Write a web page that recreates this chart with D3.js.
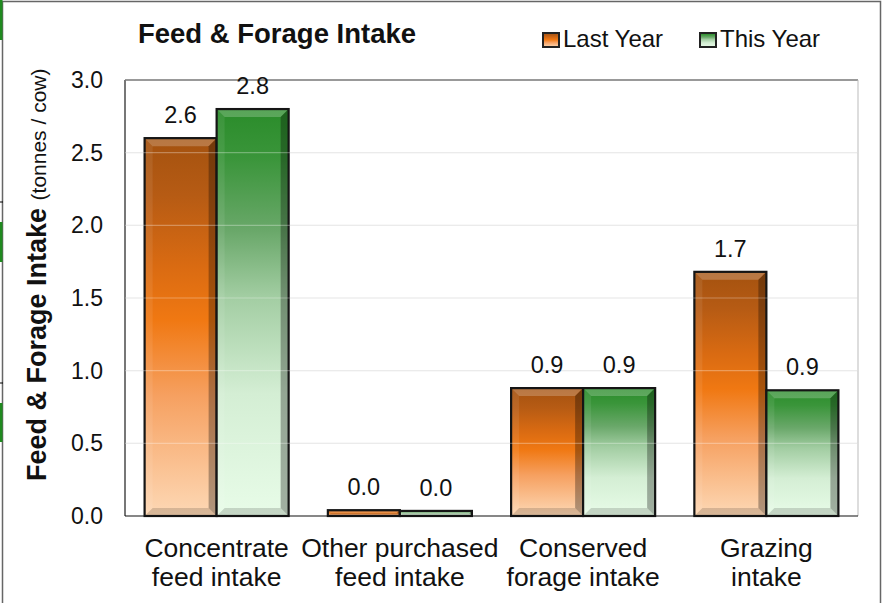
<!DOCTYPE html>
<html><head><meta charset="utf-8">
<script src="https://cdn.jsdelivr.net/npm/d3@7"></script>
<style>html,body{margin:0;padding:0;background:#fff}text{font-family:"Liberation Sans",Arial,sans-serif}</style>
</head><body><svg id="c" width="883" height="603"></svg>
<script>
const categories = [["Concentrate","feed intake"],["Other purchased","feed intake"],["Conserved","forage intake"],["Grazing","intake"]];
const seriesNames = ["Last Year","This Year"];
const lastYear = [2.6, 0.04, 0.88, 1.68];
const thisYear = [2.8, 0.035, 0.88, 0.865];
const yTicks = [0,0.5,1.0,1.5,2.0,2.5,3.0];

const svg = d3.select("#c");
const L=125,R=858,T=80,B=516;
const defs = svg.append("defs");
function grad(id, stops){
  const g = defs.append("linearGradient").attr("id",id).attr("x1",0).attr("y1",0).attr("x2",0).attr("y2",1);
  stops.forEach(s=>g.append("stop").attr("offset",s[0]).attr("stop-color",s[1]));
}
grad("gOr",[[0,"#a4520f"],[0.15,"#b65b14"],[0.33,"#d86a12"],[0.48,"#f07812"],[0.68,"#f6a060"],[0.86,"#fac090"],[1,"#fdd8b5"]]);
grad("gGr",[[0,"#2a8c2a"],[0.12,"#3a953a"],[0.3,"#6aa86a"],[0.46,"#a2cda2"],[0.7,"#d4eed4"],[1,"#e8fce8"]]);
const fills = ["url(#gOr)","url(#gGr)"];

// outer frame + left edge artifacts
svg.append("rect").attr("x",2.5).attr("y",1.5).attr("width",878).attr("height",610).attr("fill","#fff").attr("stroke","#666").attr("stroke-width",1.5);
[[0,40],[222,262],[403,442]].forEach(r=>svg.append("rect").attr("x",0).attr("y",r[0]).attr("width",2.5).attr("height",r[1]-r[0]).attr("fill","#1f8a1f"));
[202,383].forEach(y=>svg.append("line").attr("x1",0).attr("x2",3).attr("y1",y).attr("y2",y).attr("stroke","#000"));

const x = d3.scaleBand().domain(d3.range(categories.length)).range([L,R]).paddingInner(0.214).paddingOuter(0.107);
const xs = d3.scaleBand().domain(d3.range(seriesNames.length)).range([0,x.bandwidth()]);
const y = d3.scaleLinear().domain([0,3]).range([B,T]);

// gridlines under
svg.append("g").selectAll("line").data(yTicks.filter(d=>d>0&&d<3)).join("line")
  .attr("x1",L).attr("x2",R).attr("y1",d=>y(d)).attr("y2",d=>y(d)).attr("stroke","#e2e2e2").attr("stroke-width",1.2);

// plot frame
svg.append("line").attr("x1",L).attr("x2",R).attr("y1",T).attr("y2",T).attr("stroke","#777").attr("stroke-width",1.5);
svg.append("line").attr("x1",R).attr("x2",R).attr("y1",T).attr("y2",B).attr("stroke","#bbb").attr("stroke-width",1);
svg.append("line").attr("x1",L).attr("x2",L).attr("y1",T).attr("y2",B).attr("stroke","#777").attr("stroke-width",2);

const data = [];
categories.forEach((c,i)=>{[lastYear,thisYear].forEach((s,j)=>data.push({i,j,v:s[i]}));});

const bars = svg.append("g").selectAll("g").data(data).join("g");
bars.each(function(d){
  const g = d3.select(this);
  const x0 = x(d.i)+xs(d.j), w = xs.bandwidth(), y0 = y(d.v), h = y(0)-y(d.v);
  g.append("rect").attr("x",x0).attr("y",y0).attr("width",w).attr("height",h).attr("fill",fills[d.j]);
  const b = Math.min(8, h/2, w/2);
  const x1=x0+w, y1=y0+h;
  const poly=(pts,fill,op)=>g.append("polygon").attr("points",pts.map(p=>p.join(",")).join(" ")).attr("fill",fill).attr("opacity",op);
  poly([[x0,y0],[x1,y0],[x1-b,y0+b],[x0+b,y0+b]],"#fff",0.22);
  poly([[x0,y0],[x0+b,y0+b],[x0+b,y1-b],[x0,y1]],"#fff",0.08);
  poly([[x1,y0],[x1,y1],[x1-b,y1-b],[x1-b,y0+b]],"#000",0.3);
  poly([[x0,y1],[x0+b,y1-b],[x1-b,y1-b],[x1,y1]],"#000",0.15);
  g.append("rect").attr("x",x0).attr("y",y0).attr("width",w).attr("height",h).attr("fill","none").attr("stroke","#151515").attr("stroke-width",2.2);
});

// gridlines over bars (faint)
svg.append("g").selectAll("line").data(yTicks.filter(d=>d>0&&d<3)).join("line")
  .attr("x1",L).attr("x2",R).attr("y1",d=>y(d)).attr("y2",d=>y(d)).attr("stroke","#fff").attr("stroke-opacity",0.3).attr("stroke-width",1.2);

// baseline
svg.append("line").attr("x1",L).attr("x2",R).attr("y1",B).attr("y2",B).attr("stroke","#111").attr("stroke-width",1.2);

// value labels
svg.append("g").selectAll("text").data(data).join("text")
  .attr("x",d=>x(d.i)+xs(d.j)+xs.bandwidth()/2).attr("y",d=>y(d.v)-15)
  .attr("text-anchor","middle").attr("font-size",23.5).attr("fill","#111").text(d=>d.v.toFixed(1));

// y axis tick labels
const ya = d3.axisLeft(y).tickValues(yTicks).tickFormat(d3.format(".1f")).tickSize(0).tickPadding(22);
const yg = svg.append("g").attr("transform",`translate(${L},0)`).call(ya);
yg.select(".domain").remove();
yg.selectAll("text").attr("font-size",23).attr("fill","#111").attr("font-family","Liberation Sans, Arial, sans-serif");

// category labels
const cg = svg.append("g").selectAll("text").data(categories).join("text")
  .attr("text-anchor","middle").attr("font-size",26.5).attr("fill","#111");
cg.each(function(c,i){
  const t=d3.select(this);
  c.forEach((line,k)=>t.append("tspan").attr("x",x(i)+x.bandwidth()/2).attr("y",557+k*29).text(line));
});

// title
svg.append("text").attr("x",277).attr("y",43).attr("text-anchor","middle").attr("font-size",27.5).attr("font-weight","bold").attr("fill","#111").text("Feed & Forage Intake");

// y title
const yt = svg.append("text").attr("transform","translate(46,481) rotate(-90)").attr("text-anchor","start").attr("fill","#111");
yt.append("tspan").attr("font-size",27).attr("font-weight","bold").text("Feed & Forage Intake ");
yt.append("tspan").attr("font-size",21).text("(tonnes / cow)");

// legend
const lg = svg.append("g").selectAll("g").data(seriesNames).join("g")
  .attr("transform",(d,i)=>`translate(${[543,700][i]},33)`);
lg.append("rect").attr("width",16).attr("height",14).attr("fill",(d,i)=>fills[i]).attr("stroke","#222").attr("stroke-width",2);
lg.append("text").attr("x",20).attr("y",14).attr("font-size",24).attr("fill","#111").text(d=>d);
</script></body></html>
